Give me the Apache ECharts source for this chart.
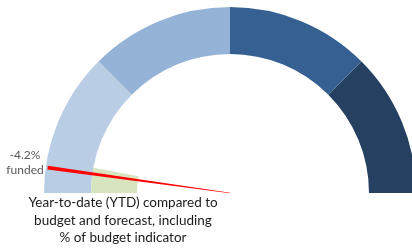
<!DOCTYPE html>
<html>
<head>
<meta charset="utf-8">
<script src="https://cdn.jsdelivr.net/npm/echarts@6/dist/echarts.min.js"></script>
<style>
    html, body { margin: 0; padding: 0; background: #fff; }
    #main { width: 412px; height: 248px; }
</style>
</head>
<body>
<div id="main"></div>
<script>
// 数据
const bandNames = ['Band 1', 'Band 2', 'Band 3', 'Band 4'];
const bandValues = [25, 25, 25, 25];
const forecastValue = 5.8;
const needleValue = 4.4;
const fundedLabel = '-4.2%';
const captionLines = ['Year-to-date (YTD) compared to', 'budget and forecast, including', '% of budget indicator'];

// 图表
function chart() {
    let myChart = echarts.init(document.querySelector('#main'));
    let center = [230, 193];
    let option = {
        animation: false,
        graphic: [
            {
                type: 'text',
                x: 123,
                y: 194,
                style: {
                    text: captionLines.join('\n'),
                    font: '13.5px Lato',
                    fill: '#1a1a1a',
                    align: 'center',
                    lineHeight: 17.5
                }
            }
        ],
        series: [
            {
                name: 'bands',
                type: 'pie',
                z: 1,
                center: center,
                radius: [139, 186],
                startAngle: 180,
                endAngle: 0,
                silent: true,
                label: { show: false },
                labelLine: { show: false },
                color: ['#b9cde5', '#95b3d7', '#366092', '#254061'],
                data: bandNames.map((n, i) => ({ name: n, value: bandValues[i] }))
            },
            {
                name: 'forecast',
                type: 'pie',
                z: 1,
                center: center,
                radius: [93, 139],
                startAngle: 180,
                endAngle: 0,
                silent: true,
                label: { show: false },
                labelLine: { show: false },
                data: [
                    { name: 'forecast', value: forecastValue, itemStyle: { color: '#d7e4bd' } },
                    { name: 'rest', value: 100 - forecastValue, itemStyle: { color: 'rgba(0,0,0,0)' } }
                ]
            },
            {
                name: 'needle',
                type: 'gauge',
                z: 10,
                center: center,
                radius: 186,
                startAngle: 180,
                endAngle: 0,
                min: 0,
                max: 100,
                axisLine: { show: false },
                axisTick: { show: false },
                splitLine: { show: false },
                axisLabel: { show: false },
                pointer: {
                    icon: 'path://M0,0 L4,0 L2.15,100 L1.85,100 Z',
                    keepAspect: false,
                    length: '99%',
                    width: 4,
                    offsetCenter: [0, 0],
                    itemStyle: { color: '#ff0000' }
                },
                anchor: { show: false },
                title: { show: false },
                detail: {
                    offsetCenter: [-205, -30],
                    formatter: () => fundedLabel + '\nfunded',
                    fontFamily: 'Lato',
                    fontSize: 12,
                    lineHeight: 15,
                    color: '#595959',
                    fontWeight: 'normal'
                },
                data: [{ value: needleValue }]
            }
        ]
    };
    myChart.setOption(option);
}
chart();
</script>
</body>
</html>
